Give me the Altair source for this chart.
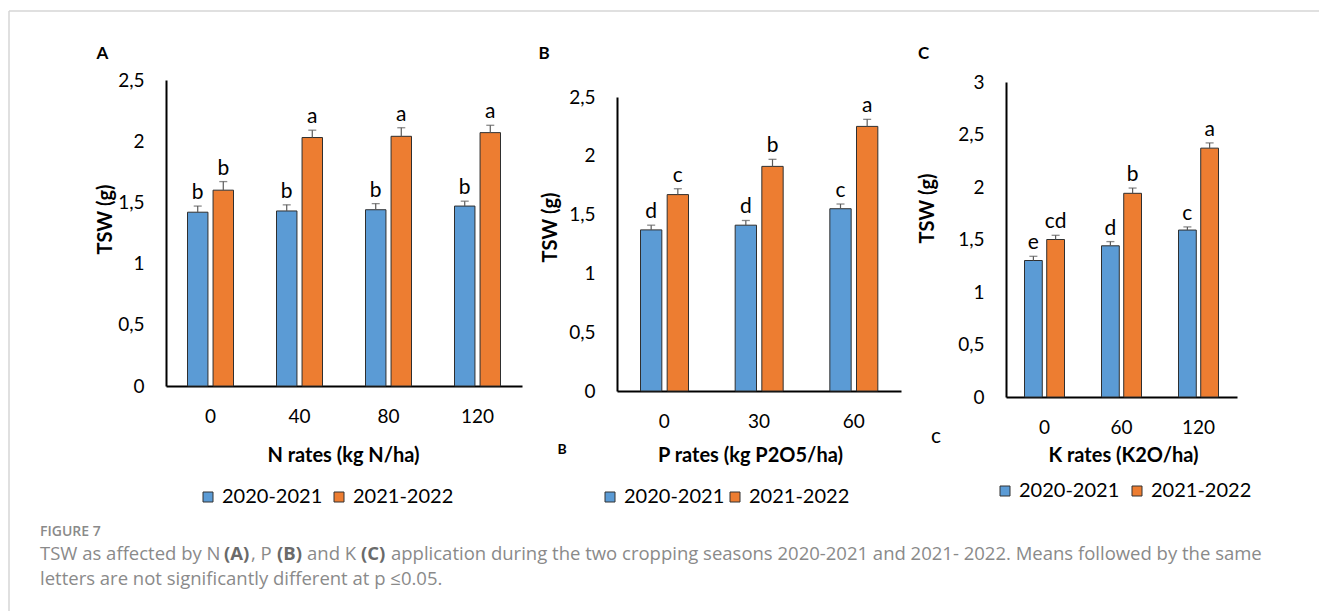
import altair as alt
import pandas as pd

W, H = 1319, 611
SEASONS = ["2020-2021", "2021-2022"]
COLORS = ["#5B9BD5", "#ED7D31"]
FONT = "Lato"
CAPTION_FONT = "Open Sans"

# Panel A: nitrogen rates
n_rates = ["0", "40", "80", "120"]
n_tsw_s1 = [1.42, 1.43, 1.44, 1.47]
n_err_s1 = [0.05, 0.05, 0.05, 0.04]
n_let_s1 = ["b", "b", "b", "b"]
n_tsw_s2 = [1.60, 2.03, 2.04, 2.07]
n_err_s2 = [0.07, 0.06, 0.07, 0.06]
n_let_s2 = ["b", "a", "a", "a"]

# Panel B: phosphorus rates
p_rates = ["0", "30", "60"]
p_tsw_s1 = [1.37, 1.41, 1.55]
p_err_s1 = [0.04, 0.04, 0.04]
p_let_s1 = ["d", "d", "c"]
p_tsw_s2 = [1.67, 1.91, 2.25]
p_err_s2 = [0.05, 0.06, 0.06]
p_let_s2 = ["c", "b", "a"]

# Panel C: potassium rates
k_rates = ["0", "60", "120"]
k_tsw_s1 = [1.30, 1.44, 1.59]
k_err_s1 = [0.04, 0.04, 0.03]
k_let_s1 = ["e", "d", "c"]
k_tsw_s2 = [1.50, 1.94, 2.37]
k_err_s2 = [0.04, 0.05, 0.05]
k_let_s2 = ["cd", "b", "a"]

ticks_25 = [0, 0.5, 1, 1.5, 2, 2.5]
ticks_3 = [0, 0.5, 1, 1.5, 2, 2.5, 3]

# caption line 1, split so the panel references can be set in bold
caption_parts = [
    ("TSW as affected by N ", "normal"),
    ("(A)", "bold"),
    (", P ", "normal"),
    ("(B)", "bold"),
    (" and K ", "normal"),
    ("(C)", "bold"),
    (" application during the two cropping seasons 2020-2021 and 2021- 2022. "
     "Means followed by the same", "normal"),
]
caption_starts = [40, 224, 251, 277, 307, 361, 391]
caption_line2 = "letters are not significantly different at p \u22640.05."


def season_table(rates, v1, e1, l1, v2, e2, l2):
    rows = []
    for season, vals, errs, lets in ((SEASONS[0], v1, e1, l1), (SEASONS[1], v2, e2, l2)):
        for r, v, e, l in zip(rates, vals, errs, lets):
            rows.append({"rate": r, "season": season, "value": v, "err": e, "letter": l})
    df = pd.DataFrame(rows)
    df["hi"] = df["value"] + df["err"]
    return df


def panel(df, rates, ymax, yticks, y_rng, x_rng, off_rng, x_title, x_title_pos,
          y_title_pos, legend_pos, col_pad):
    x_axis = alt.Axis(
        orient="bottom", offset=y_rng[0] - H, labelAngle=0, ticks=False, tickSize=0,
        domainColor="black", domainWidth=2, labelFont=FONT, labelFontSize=19,
        labelColor="black", labelBaseline="middle", labelPadding=30, grid=False,
        title=x_title, titleFont=FONT, titleFontSize=20, titleFontWeight="bold",
        titleColor="black", titleX=x_title_pos[0], titleY=x_title_pos[1] - y_rng[0],
        titleAlign="center", titleBaseline="middle",
    )
    y_axis = alt.Axis(
        orient="left", offset=-x_rng[0], values=yticks,
        labelExpr="replace(toString(datum.value), '.', ',')",
        ticks=False, tickSize=0, grid=False, domainColor="black", domainWidth=2,
        labelFont=FONT, labelFontSize=19, labelColor="black", labelPadding=22,
        labelBaseline="middle",
        title="TSW (g)", titleFont=FONT, titleFontSize=20, titleFontWeight="bold",
        titleColor="black", titleAngle=270, titleX=y_title_pos[0] - x_rng[0],
        titleY=y_title_pos[1], titleAlign="center", titleBaseline="middle",
    )
    x_enc = alt.X("rate:N", sort=rates, axis=x_axis,
                  scale=alt.Scale(range=x_rng, paddingInner=0, paddingOuter=0))
    off_enc = alt.XOffset("season:N", sort=SEASONS,
                          scale=alt.Scale(range=off_rng, paddingInner=0.2, paddingOuter=0))
    y_scale = alt.Scale(domain=[0, ymax], range=y_rng, nice=False, zero=True)

    base = alt.Chart(df)
    bars = base.mark_bar(stroke="#2f2f2f", strokeWidth=1).encode(
        x=x_enc, xOffset=off_enc,
        y=alt.Y("value:Q", scale=y_scale, axis=y_axis),
        color=alt.Color(
            "season:N", sort=SEASONS,
            scale=alt.Scale(domain=SEASONS, range=COLORS),
            legend=alt.Legend(
                orient="none", legendX=legend_pos[0], legendY=legend_pos[1],
                direction="horizontal", title=None, symbolType="square",
                symbolSize=100, symbolStrokeColor="#333333", symbolStrokeWidth=1,
                symbolOpacity=1, labelFont=FONT, labelFontSize=20, labelColor="black",
                columnPadding=col_pad, labelOffset=4, padding=0,
            ),
        ),
    )
    whiskers = base.mark_rule(color="#5a5a5a", strokeWidth=1.2).encode(
        x=x_enc, xOffset=off_enc,
        y=alt.Y("value:Q", scale=y_scale, axis=y_axis), y2="hi:Q",
    )
    caps = base.mark_tick(color="#5a5a5a", orient="horizontal", size=8, thickness=1.3).encode(
        x=x_enc, xOffset=off_enc, y=alt.Y("hi:Q", scale=y_scale, axis=y_axis),
    )
    letters = base.mark_text(font=FONT, fontSize=21, color="black",
                             baseline="alphabetic", dy=-7).encode(
        x=x_enc, xOffset=off_enc, y=alt.Y("hi:Q", scale=y_scale, axis=y_axis),
        text="letter:N",
    )
    return alt.layer(bars, whiskers, caps, letters)


panel_a = panel(
    season_table(n_rates, n_tsw_s1, n_err_s1, n_let_s1, n_tsw_s2, n_err_s2, n_let_s2),
    n_rates, 2.5, ticks_25, [386, 80], [166, 522], [21.5, 67.5],
    "N rates (kg N/ha)", (343, 455), (105, 219), (198, 487), 6,
)
panel_b = panel(
    season_table(p_rates, p_tsw_s1, p_err_s1, p_let_s1, p_tsw_s2, p_err_s2, p_let_s2),
    p_rates, 2.5, ticks_25, [391, 97], [617, 901], [23.5, 71.5],
    "P rates (kg P2O5/ha)", (750, 455), (550, 227), (600, 487), 0,
)
panel_c = panel(
    season_table(k_rates, k_tsw_s1, k_err_s1, k_let_s1, k_tsw_s2, k_err_s2, k_let_s2),
    k_rates, 3, ticks_3, [397, 82], [1006, 1237], [18.5, 58.5],
    "K rates (K2O/ha)", (1123, 455), (927, 208), (995, 481), 7,
)

one_row = pd.DataFrame({"k": [0]})


def label(text, x, y, size, weight="normal", color="black", font=FONT, align="center"):
    return alt.Chart(one_row).mark_text(
        text=text, font=font, fontSize=size, fontWeight=weight, color=color,
        align=align, baseline="middle",
    ).encode(x=alt.value(x), y=alt.value(y))


# card border (top and left edges)
border_left = alt.Chart(one_row).mark_rule(color="#d6d6d6", strokeWidth=1.5).encode(
    x=alt.value(9), y=alt.value(11), y2=alt.value(H))
border_top = alt.Chart(one_row).mark_rule(color="#d6d6d6", strokeWidth=1.5).encode(
    x=alt.value(9), x2=alt.value(W), y=alt.value(11))

caption = [
    label(part, x0, 554, 18.5, weight,
          "#6a6a6a" if weight == "bold" else "#8a8a8a", CAPTION_FONT, "left")
    for (part, weight), x0 in zip(caption_parts, caption_starts)
]

decor = [
    border_left, border_top,
    label("A", 102.5, 54, 17, "bold"),
    label("B", 544, 54, 17, "bold"),
    label("C", 923.5, 54, 17, "bold"),
    label("B", 562, 450, 14, "bold"),
    label("c", 936, 437, 21),
    label("FIGURE 7", 40, 532, 14, 600, "#8a8a8a", CAPTION_FONT, "left"),
    *caption,
    label(caption_line2, 40, 579, 18.5, "normal", "#8a8a8a", CAPTION_FONT, "left"),
]

chart = (
    alt.layer(panel_a, panel_b, panel_c, *decor)
    .resolve_scale(x="independent", y="independent", xOffset="independent",
                   color="independent")
    .resolve_axis(x="independent", y="independent")
    .resolve_legend(color="independent")
    .properties(width=W, height=H, autosize=alt.AutoSizeParams(type="none"), padding=0,
                background="white")
    .configure_view(stroke=None)
)

chart.save("out.html", embed_options={"renderer": "svg", "actions": False})
